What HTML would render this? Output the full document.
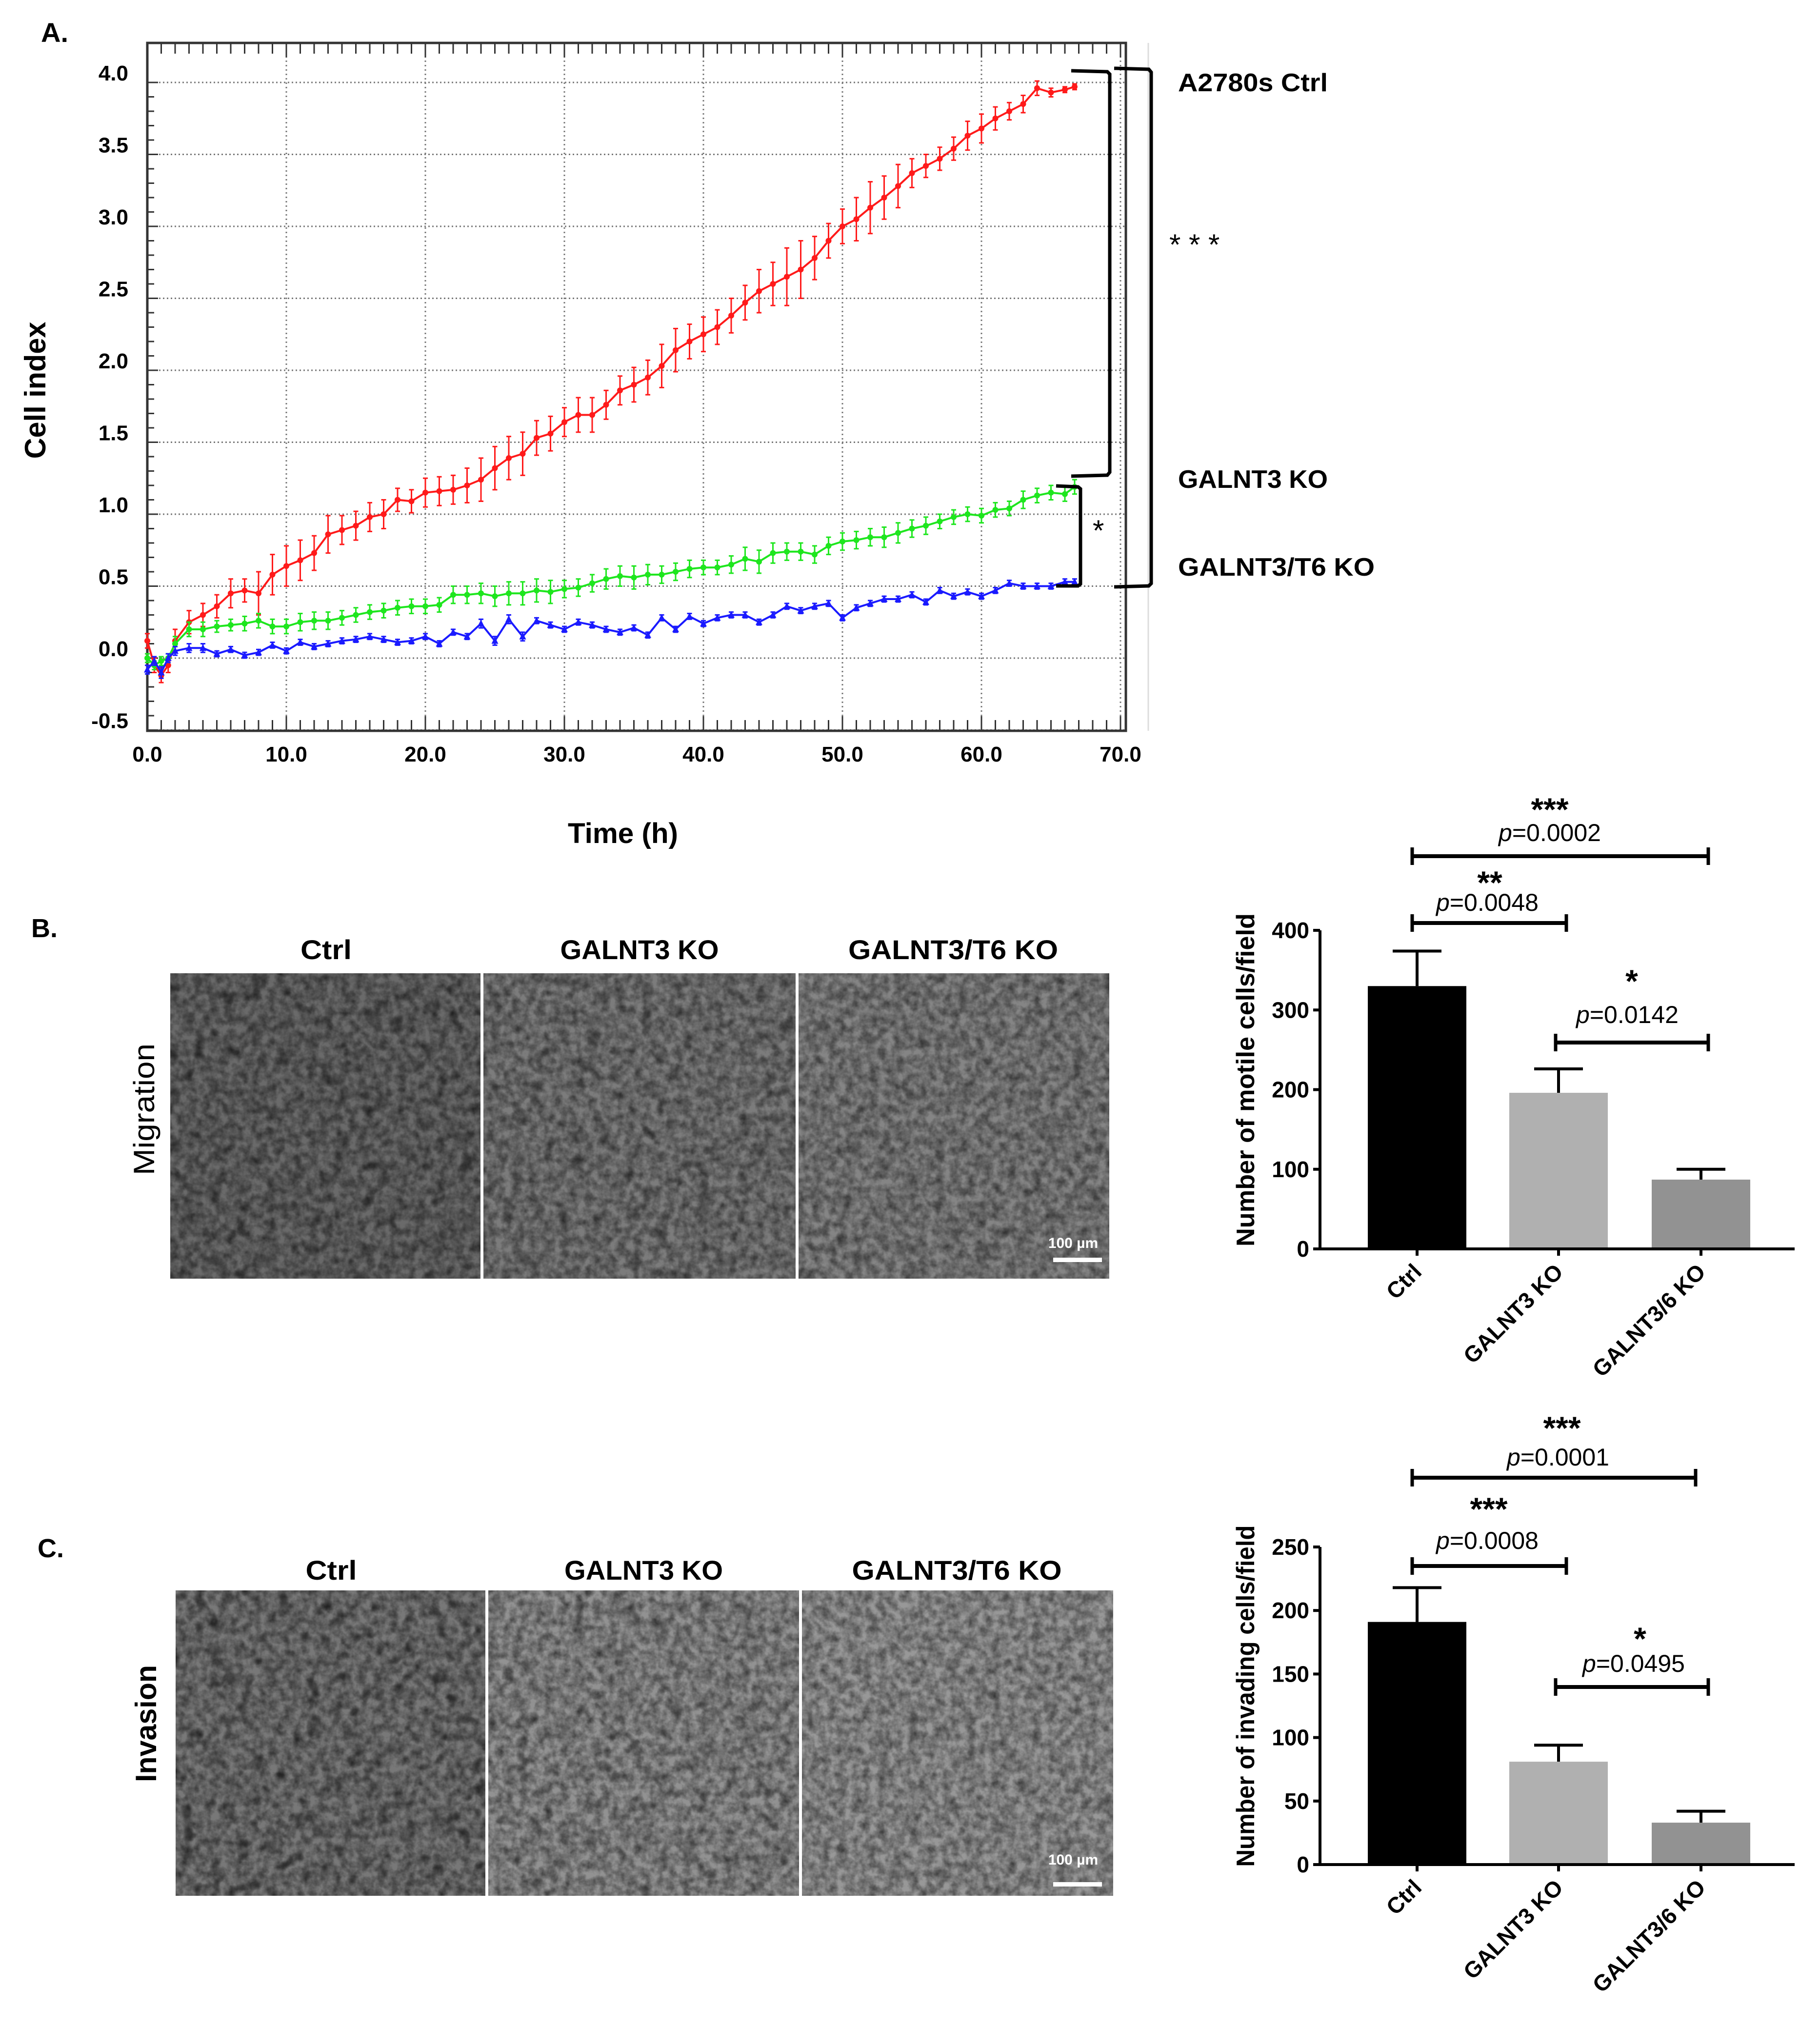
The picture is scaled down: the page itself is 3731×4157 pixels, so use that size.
<!DOCTYPE html>
<html><head><meta charset="utf-8"><title>Cell index, migration and invasion</title>
<style>
html,body{margin:0;padding:0;background:#fff;}
svg{display:block;font-family:"Liberation Sans",Arial,sans-serif;}
</style></head>
<body>
<svg id="fig" xmlns="http://www.w3.org/2000/svg" width="3731" height="4157" viewBox="0 0 3731 4157">
<defs>
  <filter id="texA" x="0" y="0" width="100%" height="100%">
    <feTurbulence type="fractalNoise" baseFrequency="0.06" numOctaves="3" seed="3"/>
    <feColorMatrix type="matrix" values="0 0 0 0 0  0 0 0 0 0  0 0 0 0 0  1.4 0 0 0 -0.4"/>
  </filter>
  <filter id="texB" x="0" y="0" width="100%" height="100%">
    <feTurbulence type="fractalNoise" baseFrequency="0.035" numOctaves="2" seed="9"/>
    <feColorMatrix type="matrix" values="0 0 0 0 0  0 0 0 0 0  0 0 0 0 0  3 0 0 0 -1.55"/>
  </filter>
</defs>
<rect width="3731" height="4157" fill="#fff"/>
<g id="panelA"></g>
<g id="panelB"></g>
<g id="panelC"></g>
</svg>
<script>
// ---------- Panel A data ----------
const timesH = [0,0.5,1,1.5,2,3,4,5,6,7,8,9,10,11,12,13,14,15,16,17,18,19,20,21,22,23,24,25,26,27,28,29,30,31,32,33,34,35,36,37,38,39,40,41,42,43,44,45,46,47,48,49,50,51,52,53,54,55,56,57,58,59,60,61,62,63,64,65,66,66.7];
const ctrlValues = [0.12,-0.05,-0.12,-0.05,0.12,0.25,0.3,0.36,0.45,0.47,0.45,0.58,0.64,0.68,0.73,0.86,0.89,0.92,0.98,1.0,1.1,1.09,1.15,1.16,1.17,1.2,1.24,1.32,1.39,1.42,1.53,1.56,1.64,1.69,1.69,1.76,1.86,1.9,1.95,2.03,2.14,2.2,2.25,2.3,2.38,2.47,2.55,2.6,2.65,2.7,2.78,2.9,3.0,3.05,3.13,3.2,3.28,3.37,3.42,3.47,3.54,3.63,3.68,3.75,3.8,3.85,3.96,3.93,3.95,3.97];
const ctrlErrors = [0.05,0.05,0.05,0.05,0.08,0.08,0.08,0.08,0.1,0.08,0.15,0.14,0.14,0.14,0.12,0.13,0.1,0.1,0.1,0.1,0.08,0.08,0.1,0.1,0.1,0.12,0.15,0.15,0.15,0.15,0.12,0.12,0.1,0.12,0.12,0.1,0.1,0.12,0.12,0.15,0.15,0.12,0.12,0.12,0.12,0.12,0.15,0.15,0.2,0.2,0.15,0.12,0.12,0.15,0.18,0.15,0.15,0.1,0.08,0.08,0.08,0.1,0.1,0.08,0.06,0.06,0.05,0.03,0.02,0.02];
const galnt3Values = [0.0,-0.05,-0.02,0.0,0.1,0.2,0.2,0.22,0.23,0.24,0.26,0.22,0.22,0.25,0.26,0.26,0.28,0.3,0.32,0.33,0.35,0.36,0.36,0.37,0.44,0.44,0.45,0.43,0.45,0.45,0.47,0.46,0.48,0.49,0.52,0.55,0.57,0.56,0.58,0.58,0.6,0.62,0.63,0.63,0.65,0.69,0.67,0.73,0.74,0.74,0.72,0.78,0.81,0.82,0.84,0.84,0.87,0.9,0.92,0.95,0.98,1.0,0.99,1.03,1.04,1.1,1.13,1.15,1.14,1.19];
const galnt3Errors = [0.03,0.03,0.03,0.03,0.05,0.05,0.05,0.04,0.04,0.05,0.05,0.05,0.05,0.06,0.06,0.06,0.05,0.05,0.05,0.05,0.05,0.05,0.05,0.05,0.06,0.06,0.07,0.07,0.08,0.08,0.08,0.08,0.06,0.06,0.06,0.07,0.07,0.08,0.07,0.06,0.06,0.06,0.05,0.05,0.06,0.08,0.08,0.07,0.06,0.06,0.06,0.06,0.06,0.06,0.06,0.07,0.07,0.06,0.06,0.05,0.05,0.05,0.05,0.05,0.05,0.06,0.05,0.05,0.05,0.05];
const galnt36Values = [-0.08,-0.02,-0.1,0.0,0.05,0.07,0.07,0.03,0.06,0.02,0.04,0.09,0.05,0.11,0.08,0.1,0.12,0.13,0.15,0.13,0.11,0.12,0.15,0.1,0.18,0.15,0.24,0.12,0.27,0.15,0.26,0.23,0.2,0.25,0.23,0.2,0.18,0.21,0.16,0.28,0.2,0.29,0.24,0.28,0.3,0.3,0.25,0.3,0.36,0.33,0.36,0.38,0.28,0.35,0.38,0.41,0.41,0.44,0.39,0.47,0.43,0.46,0.43,0.47,0.52,0.5,0.5,0.5,0.53,0.53];
const galnt36Errors = [0.03,0.03,0.04,0.03,0.03,0.03,0.03,0.02,0.02,0.02,0.02,0.02,0.02,0.02,0.02,0.02,0.02,0.02,0.02,0.02,0.02,0.02,0.02,0.02,0.02,0.02,0.03,0.03,0.03,0.03,0.02,0.02,0.02,0.02,0.02,0.02,0.02,0.02,0.02,0.02,0.02,0.02,0.02,0.02,0.02,0.02,0.02,0.02,0.02,0.02,0.02,0.02,0.02,0.02,0.02,0.02,0.02,0.02,0.02,0.02,0.02,0.02,0.02,0.02,0.02,0.02,0.02,0.02,0.02,0.02];
const xTickValues = [0,10,20,30,40,50,60,70];
const xTickLabels = ["0.0","10.0","20.0","30.0","40.0","50.0","60.0","70.0"];
const yTickValues = [-0.5,0,0.5,1,1.5,2,2.5,3,3.5,4];
const yTickLabels = ["-0.5","0.0","0.5","1.0","1.5","2.0","2.5","3.0","3.5","4.0"];

// ---------- Bar chart data ----------
const barCategories = ["Ctrl","GALNT3 KO","GALNT3/6 KO"];
const migrationValues = [330,196,87];
const migrationErrors = [44,30,13];
const migrationTicks = [0,100,200,300,400];
const invasionValues = [191,81,33];
const invasionErrors = [27,13,9];
const invasionTicks = [0,50,100,150,200,250];

const NS = "http://www.w3.org/2000/svg";
function mk(parent, tag, attrs, text){
  const e = document.createElementNS(NS, tag);
  for (const k in attrs) e.setAttribute(k, attrs[k]);
  if (text !== undefined) e.textContent = text;
  parent.appendChild(e);
  return e;
}

// ================= PANEL A =================
(function(){
  const g = document.getElementById('panelA');
  const X0=302, XPER=28.5, Y0=1349, YPER=295;
  const xs = t => X0 + t*XPER;
  const ys = v => Y0 - v*YPER;
  const L=302, R=2308, T=88, B=1498;

  let e = mk(g,'text',{x:84,y:86,'font-size':56,'font-weight':'bold'},'A.');
   

  const grid = mk(g,'g',{});
   
  yTickValues.forEach(v=>{
    mk(grid,'line',{x1:L,x2:R,y1:ys(v),y2:ys(v),stroke:'#777','stroke-width':3,'stroke-dasharray':'3 5'});
  });
  xTickValues.forEach(v=>{
    if(v===0) return;
    mk(grid,'line',{x1:xs(v),x2:xs(v),y1:T,y2:B,stroke:'#777','stroke-width':3,'stroke-dasharray':'3 6'});
  });
  mk(g,'line',{x1:2354,x2:2354,y1:T,y2:B,stroke:'#ddd','stroke-width':3});

  const fr = mk(g,'rect',{x:L,y:T,width:R-L,height:B-T,fill:'none',stroke:'#333','stroke-width':5});
   
  const tk = mk(g,'g',{stroke:'#333','stroke-width':3});
   
  for(let t=0;t<=70;t+=1){
    const len = (t%10===0)?30:22;
    mk(tk,'line',{x1:xs(t),x2:xs(t),y1:T,y2:T+len});
    mk(tk,'line',{x1:xs(t),x2:xs(t),y1:B,y2:B-len});
  }
  for(let i=-5;i<=40;i++){
    const v=i/10, len=(i%5===0)?22:14;
    mk(tk,'line',{x1:L,x2:L+len,y1:ys(v),y2:ys(v)});
  }
  yTickValues.forEach((v,i)=>{
    const t = mk(g,'text',{x:263,y:ys(v)-4,'font-size':44,'font-weight':'bold','text-anchor':'end'},yTickLabels[i]);
     
  });
  xTickValues.forEach((v,i)=>{
    const t = mk(g,'text',{x:xs(v),y:1561,'font-size':44,'font-weight':'bold','text-anchor':'middle'},xTickLabels[i]);
     
  });
  e = mk(g,'text',{x:1277,y:1728,'font-size':58,'font-weight':'bold','text-anchor':'middle',textLength:226,lengthAdjust:'spacingAndGlyphs'},'Time (h)');
   
  e = mk(g,'text',{x:0,y:0,'font-size':60,'font-weight':'bold','text-anchor':'middle',transform:'translate(93,800) rotate(-90)',textLength:281,lengthAdjust:'spacingAndGlyphs'},'Cell index');
   

  function series(vals, errs, color, name, marker){
    const sg = mk(g,'g',{});
     
    const n = Math.min(timesH.length, vals.length);
    for(let i=0;i<n;i++){
      const x=xs(timesH[i]), er=errs[i]||0;
      mk(sg,'line',{x1:x,x2:x,y1:ys(vals[i]+er),y2:ys(vals[i]-er),stroke:color,'stroke-width':3});
      mk(sg,'line',{x1:x-5,x2:x+5,y1:ys(vals[i]+er),y2:ys(vals[i]+er),stroke:color,'stroke-width':3});
      mk(sg,'line',{x1:x-5,x2:x+5,y1:ys(vals[i]-er),y2:ys(vals[i]-er),stroke:color,'stroke-width':3});
    }
    let d='';
    for(let i=0;i<n;i++) d += (i?'L':'M')+xs(timesH[i]).toFixed(1)+' '+ys(vals[i]).toFixed(1);
    mk(sg,'path',{d:d,fill:'none',stroke:color,'stroke-width':4});
    for(let i=0;i<n;i++){
      const x=xs(timesH[i]), y=ys(vals[i]);
      if(marker==='tri') mk(sg,'path',{d:`M${x} ${y-8}L${x+7} ${y+6}L${x-7} ${y+6}Z`,fill:color});
      else mk(sg,'circle',{cx:x,cy:y,r:6,fill:color});
    }
  }
  series(ctrlValues, ctrlErrors, '#ff1a1a', 'series-a2780s-ctrl', 'dot');
  series(galnt3Values, galnt3Errors, '#1ee61e', 'series-galnt3-ko', 'dot');
  series(galnt36Values, galnt36Errors, '#1a1aff', 'series-galnt3-t6-ko', 'tri');

  const br = mk(g,'g',{fill:'none',stroke:'#000','stroke-width':7});
   
  mk(br,'path',{d:'M2196 145 L2270 147 L2275 152 L2275 968 L2270 974 L2196 976'});
  mk(br,'path',{d:'M2165 996 L2210 998 L2215 1002 L2215 1197 L2210 1201 L2165 1201'});
  mk(br,'path',{d:'M2284 140 L2355 142 L2360 148 L2360 1196 L2355 1201 L2284 1203'});
  e = mk(g,'text',{x:2397,y:522,'font-size':60},'* * *');
   
  e = mk(g,'text',{x:2240,y:1108,'font-size':60},'*');
   
  const lab=[['A2780s Ctrl',187,307,'label-a2780s-ctrl'],['GALNT3 KO',1000,307,'label-galnt3-ko'],['GALNT3/T6 KO',1180,403,'label-galnt3-t6-ko']];
  lab.forEach(l=>{
    const t = mk(g,'text',{x:2415,y:l[1],'font-size':52,'font-weight':'bold',textLength:l[2],lengthAdjust:'spacingAndGlyphs'},l[0]);
     
  });
})();

// ================= IMAGE ROWS =================
function imageRow(gid, letter, letterX, letterY, rowLabel, rowBold, rowX, rowY, rowLen, titleY, x0, x1, seps, y0, y1, tones, scaleTextY, scaleBarY){
  const g = document.getElementById(gid);
  let e = mk(g,'text',{x:letterX,y:letterY,'font-size':54,'font-weight':'bold'},letter);
   
  e = mk(g,'text',{x:0,y:0,'font-size':60,'font-weight':rowBold?'bold':'normal','text-anchor':'middle',transform:`translate(${rowX},${rowY}) rotate(-90)`,textLength:rowLen,lengthAdjust:'spacingAndGlyphs'},rowLabel);
   
  const edges=[x0,seps[0],seps[1],x1];
  const titles=['Ctrl','GALNT3 KO','GALNT3/T6 KO'];
  const tlen=[105,325,430];
  for(let i=0;i<3;i++){
    const a=edges[i]+(i?3:0), b=edges[i+1]-(i<2?3:0);
    const ig = mk(g,'g',{});
     
    mk(ig,'rect',{x:a,y:y0,width:b-a,height:y1-y0,fill:tones[i][0]});
    mk(ig,'rect',{x:a,y:y0,width:b-a,height:y1-y0,fill:'#fff',filter:'url(#texA)',opacity:0.6});
    mk(ig,'rect',{x:a,y:y0,width:b-a,height:y1-y0,fill:'#000',filter:'url(#texB)',opacity:tones[i][1]});
    const t = mk(g,'text',{x:(edges[i]+edges[i+1])/2,y:titleY,'font-size':56,'font-weight':'bold','text-anchor':'middle',textLength:tlen[i],lengthAdjust:'spacingAndGlyphs'},titles[i]);
     
  }
  e = mk(g,'text',{x:2200,y:scaleTextY,'font-size':30,'font-weight':'bold',fill:'#fff','text-anchor':'middle'},'100 µm');
   
  e = mk(g,'rect',{x:2159,y:scaleBarY,width:100,height:9,fill:'#fff'});
   
}
imageRow('panelB','B.',64,1921,'Migration',false,316,2274,270,1966,349,2274,[988,1634],1995,2621,[['#6a6a6a',0.45],['#7c7c7c',0.4],['#858585',0.3]],2558,2578);
imageRow('panelC','C.',77,3192,'Invasion',true,320,3533,240,3238,360,2282,[998,1641],3260,3886,[['#787878',0.55],['#929292',0.4],['#989898',0.25]],3822,3858);

// ================= BAR CHARTS =================
function barChart(gid, values, errors, ticks, yMax, zeroY, topY, title, titleLen, brackets){
  const g = document.getElementById(gid);
  const axL=2706, axR=3679;
  const ys = v => zeroY - v*(zeroY-topY)/yMax;
  const centers=[2905,3195,3487], bw=202, fills=['#000','#b0b0b0','#929292'];
  const cg = mk(g,'g',{});
   
  for(let i=0;i<values.length;i++){
    const top=ys(values[i]), et=ys(values[i]+errors[i]);
    mk(cg,'line',{x1:centers[i],x2:centers[i],y1:top,y2:et,stroke:'#000','stroke-width':6});
    mk(cg,'line',{x1:centers[i]-50,x2:centers[i]+50,y1:et,y2:et,stroke:'#000','stroke-width':6});
    const r = mk(cg,'rect',{x:centers[i]-bw/2,y:top,width:bw,height:zeroY-top,fill:fills[i]});
    
    
  }
  mk(cg,'line',{x1:axL,x2:axL,y1:topY,y2:zeroY,stroke:'#000','stroke-width':6});
  mk(cg,'line',{x1:axL,x2:axR,y1:zeroY,y2:zeroY,stroke:'#000','stroke-width':6});
  ticks.forEach(v=>{
    mk(cg,'line',{x1:axL-14,x2:axL,y1:ys(v),y2:ys(v),stroke:'#000','stroke-width':6});
    const t = mk(cg,'text',{x:2684,y:ys(v)+16,'font-size':46,'font-weight':'bold','text-anchor':'end'},String(v));
     
  });
  barCategories.forEach((c,i)=>{
    mk(cg,'line',{x1:centers[i],x2:centers[i],y1:zeroY,y2:zeroY+14,stroke:'#000','stroke-width':6});
    const t = mk(cg,'text',{x:0,y:0,'font-size':46,'font-weight':'bold','text-anchor':'end',transform:`translate(${centers[i]+12},${zeroY+50}) rotate(-45)`},c);
     
  });
  const yt = mk(cg,'text',{x:0,y:0,'font-size':52,'font-weight':'bold','text-anchor':'middle',transform:`translate(2571,${(zeroY+topY)/2-20}) rotate(-90)`,textLength:titleLen,lengthAdjust:'spacingAndGlyphs'},title);
   
  brackets.forEach(b=>{
    const bg = mk(g,'g',{});
     
    mk(bg,'line',{x1:b.x1,x2:b.x2,y1:b.y,y2:b.y,stroke:'#000','stroke-width':8});
    mk(bg,'line',{x1:b.x1,x2:b.x1,y1:b.y-18,y2:b.y+18,stroke:'#000','stroke-width':7});
    mk(bg,'line',{x1:b.x2,x2:b.x2,y1:b.y-18,y2:b.y+18,stroke:'#000','stroke-width':7});
    mk(bg,'text',{x:b.sx,y:b.sy-8,'font-size':66,'font-weight':'bold','text-anchor':'middle'},b.stars);
    const p = mk(bg,'text',{x:b.px,y:b.py,'font-size':50,'text-anchor':'middle'});
    mk(p,'tspan',{'font-style':'italic'},'p');
    mk(p,'tspan',{},b.p);
  });
}
barChart('panelB', migrationValues, migrationErrors, migrationTicks, 400, 2560, 1907, 'Number of motile cells/field', 683, [
  {x1:2895,x2:3502,y:1755,stars:'***',sx:3177,sy:1690,p:'=0.0002',px:3177,py:1724},
  {x1:2895,x2:3211,y:1892,stars:'**',sx:3054,sy:1840,p:'=0.0048',px:3049,py:1867},
  {x1:3189,x2:3502,y:2137,stars:'*',sx:3345,sy:2042,p:'=0.0142',px:3336,py:2097}
]);
barChart('panelC', invasionValues, invasionErrors, invasionTicks, 250, 3822, 3171, 'Number of invading cells/field', 700, [
  {x1:2895,x2:3476,y:3029,stars:'***',sx:3202,sy:2958,p:'=0.0001',px:3194,py:3004},
  {x1:2895,x2:3211,y:3210,stars:'***',sx:3052,sy:3124,p:'=0.0008',px:3049,py:3175},
  {x1:3189,x2:3502,y:3458,stars:'*',sx:3362,sy:3390,p:'=0.0495',px:3349,py:3427}
]);
</script>
</body></html>
